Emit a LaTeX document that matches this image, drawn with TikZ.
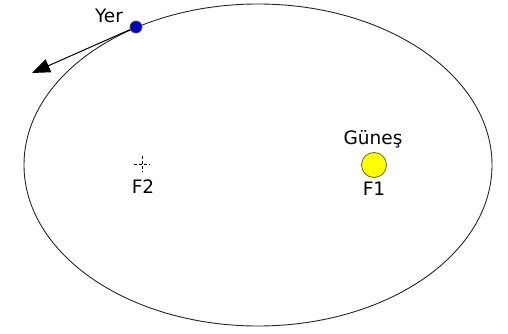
\documentclass[tikz,border=0pt]{standalone}
\usepackage{fontspec}
\setmainfont{DejaVu Sans}
\usetikzlibrary{arrows.meta,calc}
\definecolor{sunyellow}{RGB}{255,255,0}
\definecolor{sunline}{RGB}{110,100,20}
\definecolor{earthblue}{RGB}{0,0,205}
\tikzset{
  lbl/.style={font=\fontsize{18.5}{22}\selectfont},
  planet/.style={circle, draw, inner sep=0pt, line width=0.8pt}
}
\begin{document}
\begin{tikzpicture}[x=1pt, y=-1pt]
    \useasboundingbox (0,0) rectangle (508,334);
    \draw[line width=0.9pt, black!85] (258,165) ellipse [x radius=234, y radius=161];
    \node[planet, fill=sunyellow, draw=sunline, minimum size=25pt] (gunes) at (374,165) {};
    \node[planet, fill=earthblue, draw=black!70, minimum size=12pt] (yer) at (136,27) {};
    \coordinate (F2) at (142,164);
    \coordinate (tip) at (32,73);
    \draw[line width=1pt, -{Triangle[length=18pt, width=14pt]}] (yer) -- (tip);
    \draw[dashed, dash pattern=on 3pt off 2pt, line width=0.6pt] ($(F2)+(-8,0)$) -- ($(F2)+(8,0)$);
    \draw[dashed, dash pattern=on 3pt off 2pt, line width=0.6pt] ($(F2)+(0,-8)$) -- ($(F2)+(0,8)$);
    \node[lbl] (yerlbl) at (109,16) {Yer};
    \node[lbl] (guneslbl) at (373,139) {Güneş};
    \node[lbl] (f1) at (374,189) {F1};
    \node[lbl] (f2) at (143,187) {F2};
\end{tikzpicture}
\end{document}
